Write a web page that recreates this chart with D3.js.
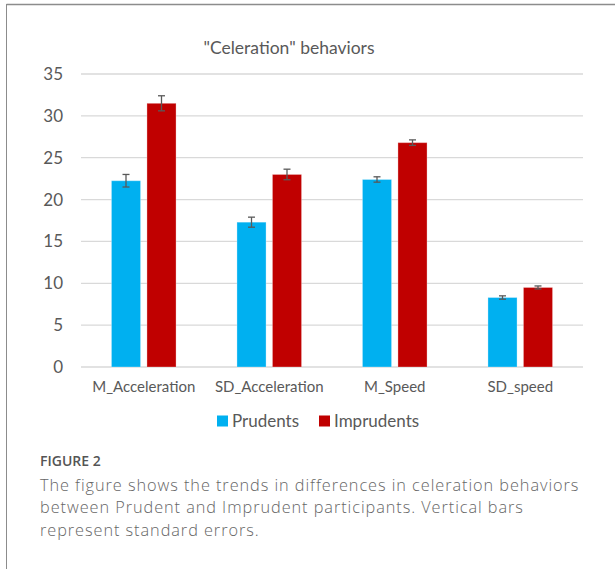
<!DOCTYPE html>
<html>
<head>
<meta charset="utf-8">
<script src="https://cdn.jsdelivr.net/npm/d3@7"></script>
<style>
    body { margin: 0; background: #fff; }
    svg { display: block; }
</style>
</head>
<body>
<div id="chart"></div>
<script>
const categories = ["M_Acceleration", "SD_Acceleration", "M_Speed", "SD_speed"];
const series = ["Prudents", "Imprudents"];
const prudents = [22.25, 17.3, 22.4, 8.3];
const imprudents = [31.5, 23.0, 26.8, 9.5];
const prudentsSE = [0.75, 0.6, 0.32, 0.2];
const imprudentsSE = [0.9, 0.63, 0.33, 0.18];
const yTicks = [0, 5, 10, 15, 20, 25, 30, 35];
const captionLines = [
    "The figure shows the trends in differences in celeration behaviors",
    "between Prudent and Imprudent participants. Vertical bars",
    "represent standard errors."
];

const width = 615;
const height = 569;
const colors = { Prudents: "#00b0f0", Imprudents: "#c00000" };
const chartFont = "Lato, 'Open Sans', sans-serif";

const svg = d3.select("#chart").append("svg")
    .attr("width", width)
    .attr("height", height);

// frame lines (top and left)
svg.append("line")
    .attr("x1", 6.5).attr("x2", width).attr("y1", 4.5).attr("y2", 4.5)
    .style("stroke", "#8c8c8c").style("stroke-width", 1.3);
svg.append("line")
    .attr("x1", 6.5).attr("x2", 6.5).attr("y1", 4).attr("y2", height)
    .style("stroke", "#8c8c8c").style("stroke-width", 1);

// title
svg.append("text")
    .attr("x", 289)
    .attr("y", 48)
    .attr("dy", ".35em")
    .attr("text-anchor", "middle")
    .style("font", "17.5px " + chartFont)
    .style("fill", "#595959")
    .text("\"Celeration\" behaviors");

const x0 = d3.scaleBand()
    .domain(categories)
    .range([81, 583]);

const x1 = d3.scaleBand()
    .domain(series)
    .range([x0.bandwidth() / 2 - 32.3, x0.bandwidth() / 2 + 32.3])
    .paddingInner(0.18);

const y = d3.scaleLinear()
    .domain([0, 35])
    .range([367, 74]);

// gridlines
svg.append("g")
    .selectAll("line")
    .data(yTicks)
    .enter().append("line")
    .attr("x1", 81).attr("x2", 583)
    .attr("y1", d => y(d)).attr("y2", d => y(d))
    .style("stroke", "#d9d9d9")
    .style("stroke-width", 1.3);

// y axis labels
const yAxis = d3.axisLeft(y).tickValues(yTicks).tickSize(0).tickPadding(18);
svg.append("g")
    .attr("transform", "translate(81,0)")
    .call(yAxis)
    .call(g => g.select(".domain").remove())
    .selectAll("text")
    .style("font", "17px " + chartFont)
    .style("fill", "#595959");

// x axis labels
const xAxis = d3.axisBottom(x0).tickSize(0).tickPadding(14);
svg.append("g")
    .attr("transform", "translate(0,367)")
    .call(xAxis)
    .call(g => g.select(".domain").remove())
    .selectAll("text")
    .style("font", "15px " + chartFont)
    .style("fill", "#595959");

const rows = categories.map((c, i) => ({
    category: c,
    values: [
        { key: "Prudents", value: prudents[i], se: prudentsSE[i] },
        { key: "Imprudents", value: imprudents[i], se: imprudentsSE[i] }
    ]
}));

const group = svg.selectAll(".group")
    .data(rows)
    .enter().append("g")
    .attr("class", "group")
    .attr("transform", d => "translate(" + x0(d.category) + ",0)");

group.selectAll("rect")
    .data(d => d.values)
    .enter().append("rect")
    .attr("x", d => x1(d.key))
    .attr("width", x1.bandwidth())
    .attr("y", d => y(d.value))
    .attr("height", d => y(0) - y(d.value))
    .style("fill", d => colors[d.key])
    .style("stroke", "rgba(255,255,255,0.3)")
    .style("stroke-width", 1);

// error bars
const err = group.selectAll(".err")
    .data(d => d.values)
    .enter().append("g")
    .attr("class", "err")
    .style("stroke", "#595959")
    .style("stroke-width", 1.3);

err.append("line")
    .attr("x1", d => x1(d.key) + x1.bandwidth() / 2)
    .attr("x2", d => x1(d.key) + x1.bandwidth() / 2)
    .attr("y1", d => y(d.value + d.se))
    .attr("y2", d => y(d.value - d.se));

err.selectAll(".cap")
    .data(d => [d.value + d.se, d.value - d.se].map(v => ({ key: d.key, v: v })))
    .enter().append("line")
    .attr("class", "cap")
    .attr("x1", d => x1(d.key) + x1.bandwidth() / 2 - 3.5)
    .attr("x2", d => x1(d.key) + x1.bandwidth() / 2 + 3.5)
    .attr("y1", d => y(d.v))
    .attr("y2", d => y(d.v));

// legend
const legendX = [217, 319];
const legend = svg.selectAll(".legend")
    .data(series)
    .enter().append("g")
    .attr("class", "legend")
    .attr("transform", (d, i) => "translate(" + legendX[i] + ",421)");

legend.append("rect")
    .attr("x", 0).attr("y", -5.5)
    .attr("width", 11).attr("height", 11)
    .style("fill", d => colors[d]);

legend.append("text")
    .attr("x", 15)
    .attr("dy", ".35em")
    .style("font", "17px " + chartFont)
    .style("fill", "#595959")
    .text(d => d);

// caption
svg.append("text")
    .attr("x", 40)
    .attr("y", 461)
    .attr("dy", ".35em")
    .style("font", "600 14px 'Open Sans', sans-serif")
    .style("fill", "#555")
    .text("FIGURE 2");

svg.append("g")
    .selectAll("text")
    .data(captionLines)
    .enter().append("text")
    .attr("x", 40)
    .attr("y", (d, i) => 485 + i * 22.5)
    .attr("dy", ".35em")
    .style("font", "300 16.3px 'Open Sans', sans-serif")
    .style("letter-spacing", "0.95px")
    .style("fill", "#666")
    .text(d => d);
</script>
</body>
</html>
